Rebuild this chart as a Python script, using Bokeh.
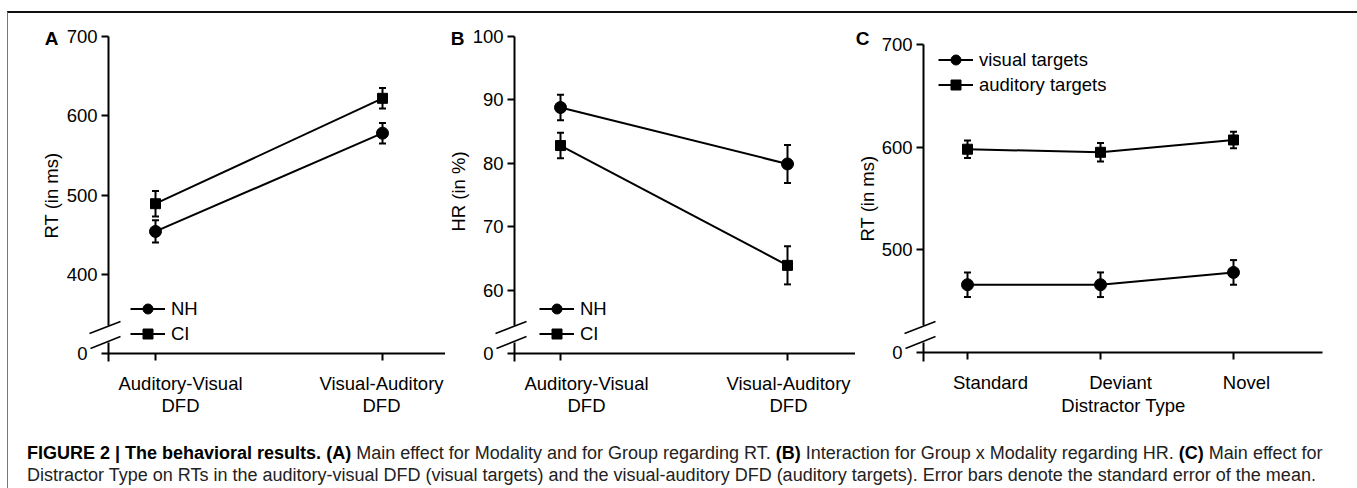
from bokeh.plotting import figure
from bokeh.models import (Range1d, FixedTicker, Whisker, TeeHead, ColumnDataSource,
                          Legend, LegendItem, Label, Div)
from bokeh.layouts import row, column
from bokeh.embed import file_html
from bokeh.resources import INLINE
from bokeh.core.properties import value

# ---------------- data ----------------
modality = ["Auditory-Visual\nDFD", "Visual-Auditory\nDFD"]
group_names = ["NH", "CI"]
rt_nh = [454, 578]
rt_nh_se = [14, 13]
rt_ci = [489, 622]
rt_ci_se = [16, 13]
hr_nh = [88.8, 79.9]
hr_nh_se = [2.0, 3.0]
hr_ci = [82.8, 63.9]
hr_ci_se = [2.0, 3.0]
distractor = ["Standard", "Deviant", "Novel"]
target_names = ["visual targets", "auditory targets"]
rt_visual = [466, 466, 478]
rt_visual_se = [12, 12, 12]
rt_auditory = [598, 595, 607]
rt_auditory_se = [8.5, 9, 8]
ticks_a = [400, 500, 600, 700]
ticks_b = [60, 70, 80, 90, 100]
ticks_c = [500, 600, 700]
break_a, break_b, break_c = 300, 50, 400   # axis position shown as "0"

FONT = "Liberation Sans"
FS = "18.5px"
TOP, BOT = 13, 425


def panel(fig_l, fig_r, cat_px, vb, pb, vt, pt, ax_px, axis_end_px):
    sx = (cat_px[1] - cat_px[0])
    sy = (pb - pt) / (vt - vb)
    X = lambda px: (px - cat_px[0]) / sx
    Y = lambda py: vb - (py - pb) / sy
    p = figure(width=fig_r - fig_l, height=BOT - TOP,
               x_range=Range1d(X(fig_l), X(fig_r)), y_range=Range1d(Y(BOT), Y(TOP)),
               output_backend="svg", toolbar_location=None, min_border=0)
    p.grid.visible = False
    p.outline_line_color = None
    p.background_fill_color = "white"
    p.border_fill_color = "white"
    ax = X(ax_px)
    p.xaxis.fixed_location = vb
    p.yaxis.fixed_location = ax
    for a in (p.xaxis, p.yaxis):
        a.axis_line_color = None
        a.major_tick_out = 7
        a.major_tick_in = 0
        a.major_tick_line_width = 2
        a.major_tick_line_color = "black"
        a.minor_tick_line_color = None
        a.major_label_text_font = FONT
        a.major_label_text_font_size = FS
        a.major_label_text_color = "black"
    p.xaxis.major_label_text_color = None
    p.yaxis.major_label_standoff = 4
    # axis lines with a break
    p.segment(x0=[ax, ax, ax], y0=[Y(361), Y(325), vb],
              x1=[ax, ax, X(axis_end_px)], y1=[Y(342), vt, vb],
              line_width=2, line_color="black")
    p.segment(x0=[X(ax_px - 19), X(ax_px - 18)], y0=[Y(333), Y(348)],
              x1=[X(ax_px + 12), X(ax_px + 12)], y1=[Y(321), Y(336)],
              line_width=1.5, line_color="black")
    p.text(x=[ax], y=[vb], text=["0"], x_offset=-21, text_align="right",
           text_baseline="middle", text_font=value(FONT), text_font_size=FS,
           text_color="black")
    return p, X, Y


def series(p, n, vals, se, marker, size):
    xs = list(range(n))
    src = ColumnDataSource(dict(x=xs, y=vals,
                                up=[v + e for v, e in zip(vals, se)],
                                lo=[v - e for v, e in zip(vals, se)]))
    l = p.line("x", "y", source=src, line_width=2, line_color="black")
    w = Whisker(source=src, base="x", upper="up", lower="lo", line_width=2,
                line_color="black",
                upper_head=TeeHead(size=7, line_width=2, line_color="black"),
                lower_head=TeeHead(size=7, line_width=2, line_color="black"))
    p.add_layout(w)
    s = p.scatter("x", "y", source=src, marker=marker, size=size,
                  fill_color="black", line_color="black")
    return l, s


def xlabels(p, cats, vb, offsets):
    first = [c.split("\n")[0] for c in cats]
    p.text(x=list(range(len(cats))), y=[vb] * len(cats), text=first,
           x_offset=offsets, y_offset=30, text_align="center",
           text_baseline="alphabetic", text_font=value(FONT), text_font_size=FS,
           text_color="black")
    second = [c.split("\n")[1] if "\n" in c else "" for c in cats]
    if any(second):
        p.text(x=list(range(len(cats))), y=[vb] * len(cats), text=second,
               x_offset=offsets, y_offset=52, text_align="center",
               text_baseline="alphabetic", text_font=value(FONT), text_font_size=FS,
               text_color="black")


def legend(p, items, loc, spacing):
    lg = Legend(items=items, location=loc, padding=0, margin=0, spacing=spacing,
                glyph_width=35, glyph_height=25, label_height=20, label_standoff=6,
                border_line_color=None, background_fill_alpha=0,
                label_text_font=FONT, label_text_font_size=FS,
                label_text_color="black")
    p.add_layout(lg)


def letter_and_title(p, X, Y, letter, lx, title, tx, ty):
    p.add_layout(Label(x=X(lx), y=Y(38), text=letter, text_font=FONT,
                       text_font_size="19px", text_font_style="bold",
                       text_align="center", text_baseline="middle", text_color="black"))
    p.add_layout(Label(x=X(tx), y=Y(ty), text=title, text_font=FONT,
                       text_font_size=FS, angle=1.5707963, text_align="center",
                       text_baseline="middle", text_color="black"))


AB, BC = 445, 855   # figure boundaries (page px)

# ---------------- panel A ----------------
pA, XA, YA = panel(8, AB, [155, 382], break_a, 353, 700, 36, 108, AB)
pA.xaxis.ticker = FixedTicker(ticks=list(range(len(modality))))
pA.yaxis.ticker = FixedTicker(ticks=[break_a] + ticks_a)
pA.yaxis.major_label_overrides = {break_a: ""}
la1, sa1 = series(pA, 2, rt_nh, rt_nh_se, "circle", 12)
la2, sa2 = series(pA, 2, rt_ci, rt_ci_se, "square", 10)
xlabels(pA, modality, break_a, [25, -1])
legend(pA, [LegendItem(label=group_names[0], renderers=[la1, sa1]),
            LegendItem(label=group_names[1], renderers=[la2, sa2])],
       (130 - 8, BOT - 346), -3)
letter_and_title(pA, XA, YA, "A", 51, "RT (in ms)", 51, 195)

# ---------------- panel B ----------------
pB, XB, YB = panel(AB, BC, [560, 787], break_b, 353, 100, 36, 514, BC)
pB.xaxis.ticker = FixedTicker(ticks=list(range(len(modality))))
pB.yaxis.ticker = FixedTicker(ticks=[break_b] + ticks_b)
pB.yaxis.major_label_overrides = {break_b: ""}
lb1, sb1 = series(pB, 2, hr_nh, hr_nh_se, "circle", 12)
lb2, sb2 = series(pB, 2, hr_ci, hr_ci_se, "square", 10)
xlabels(pB, modality, break_b, [26, 1])
legend(pB, [LegendItem(label=group_names[0], renderers=[lb1, sb1]),
            LegendItem(label=group_names[1], renderers=[lb2, sb2])],
       (539 - AB, BOT - 346), -4)
letter_and_title(pB, XB, YB, "B", 457, "HR (in %)", 458, 191)

# ---------------- panel C ----------------
pC, XC, YC = panel(BC, 1354, [967, 1100], break_c, 352, 700, 44, 923, 1322)
pC.xaxis.ticker = FixedTicker(ticks=list(range(len(distractor))))
pC.yaxis.ticker = FixedTicker(ticks=[break_c] + ticks_c)
pC.yaxis.major_label_overrides = {break_c: ""}
lc1, sc1 = series(pC, 3, rt_visual, rt_visual_se, "circle", 12)
lc2, sc2 = series(pC, 3, rt_auditory, rt_auditory_se, "square", 10)
xlabels(pC, distractor, break_c, [23, 20, 13])
legend(pC, [LegendItem(label=target_names[0], renderers=[lc1, sc1]),
            LegendItem(label=target_names[1], renderers=[lc2, sc2])],
       (938 - BC, BOT - 97), -2)
letter_and_title(pC, XC, YC, "C", 862, "RT (in ms)", 867, 198)
pC.add_layout(Label(x=XC(1123), y=YC(405), text="Distractor Type", text_font=FONT,
                    text_font_size=FS, text_align="center", text_baseline="alphabetic",
                    text_color="black"))

# ---------------- caption ----------------
cap_html = (
    '<div style="font-family:\'Liberation Sans\',Arial,sans-serif;font-size:18px;'
    'line-height:22px;color:#222;white-space:nowrap;padding:12px 0 0 14px;">'
    '<b style="color:#000">FIGURE 2 | The behavioral results.</b> <b style="color:#000">(A)</b> '
    'Main effect for Modality and for Group regarding RT. <b style="color:#000">(B)</b> '
    'Interaction for Group x Modality regarding HR. <b style="color:#000">(C)</b> Main effect for<br>'
    'Distractor Type on RTs in the auditory-visual DFD (visual targets) and the '
    'visual-auditory DFD (auditory targets). Error bars denote the standard error of the mean.'
    '</div>')
cap = Div(text=cap_html, width=1346, height=488 - BOT - 2)

root = column(row(pA, pB, pC), cap, margin=(11, 0, 0, 7),
              styles={"border-top": "2px solid #111", "border-left": "1px solid #777",
                      "border-right": "1px solid #777", "background": "white"})

open("out.html", "w").write(file_html(root, INLINE))
